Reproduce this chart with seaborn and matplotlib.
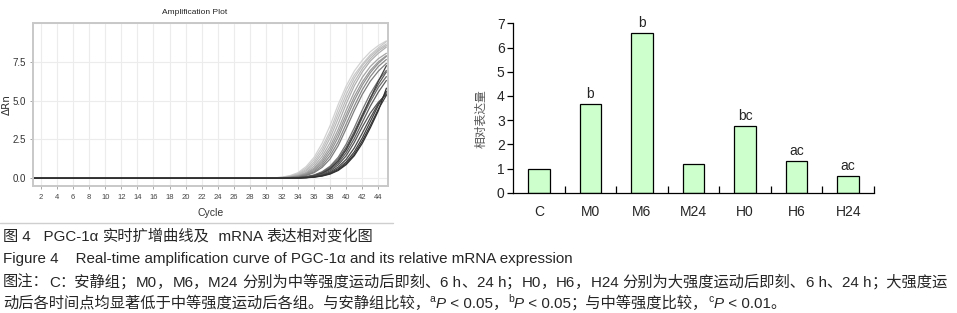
import numpy as np
import pandas as pd
import matplotlib
matplotlib.use("Agg")
import matplotlib.pyplot as plt
from matplotlib.lines import Line2D
import seaborn as sns

# ---------------- data ----------------
# Right panel: relative mRNA expression
categories = ["C", "M0", "M6", "M24", "H0", "H6", "H24"]
expression = [1.0, 3.65, 6.59, 1.18, 2.75, 1.30, 0.69]
sig_labels = ["", "b", "b", "", "bc", "ac", "ac"]

# Left panel: amplification curves (ΔRn), baseline cycles 1-29 and readings for cycles 30-45
baseline_cycles = list(range(1, 30))
rise_cycles = list(range(30, 46))
curve_values = {
    "c20": [0, 0.02, 0.07, 0.17, 0.36, 0.75, 1.35, 2.25, 3.40, 4.75, 5.95, 6.90, 7.60, 8.15, 8.55, 8.85],
    "c01": [0, 0.02, 0.06, 0.14, 0.30, 0.65, 1.20, 2.00, 3.05, 4.45, 5.70, 6.65, 7.35, 7.95, 8.40, 8.80],
    "c02": [0, 0.02, 0.05, 0.12, 0.26, 0.55, 1.05, 1.80, 2.85, 4.15, 5.40, 6.45, 7.25, 7.85, 8.30, 8.65],
    "c03": [0, 0.01, 0.04, 0.10, 0.22, 0.47, 0.92, 1.60, 2.60, 3.85, 5.10, 6.20, 7.05, 7.70, 8.20, 8.55],
    "c04": [0, 0.01, 0.03, 0.08, 0.18, 0.38, 0.78, 1.40, 2.30, 3.50, 4.80, 5.95, 6.85, 7.55, 8.05, 8.45],
    "c05": [0, 0.01, 0.03, 0.07, 0.15, 0.32, 0.66, 1.22, 2.05, 3.15, 4.40, 5.55, 6.50, 7.20, 7.70, 8.05],
    "c06": [0, 0.01, 0.02, 0.06, 0.13, 0.28, 0.58, 1.08, 1.85, 2.90, 4.10, 5.25, 6.20, 6.95, 7.50, 7.90],
    "c07": [0, 0.00, 0.02, 0.05, 0.11, 0.24, 0.50, 0.95, 1.65, 2.65, 3.85, 5.00, 6.00, 6.80, 7.40, 7.85],
    "c08": [0, 0.00, 0.02, 0.04, 0.09, 0.20, 0.42, 0.82, 1.45, 2.35, 3.50, 4.65, 5.70, 6.55, 7.20, 7.65],
    "c09": [0, 0.00, 0.01, 0.04, 0.08, 0.17, 0.36, 0.70, 1.25, 2.10, 3.20, 4.35, 5.40, 6.25, 6.90, 7.40],
    "c10": [0, 0.00, 0.01, 0.02, 0.05, 0.10, 0.21, 0.42, 0.78, 1.35, 2.20, 3.25, 4.40, 5.45, 6.30, 6.95],
    "c19": [0, 0.00, 0.01, 0.02, 0.04, 0.09, 0.19, 0.38, 0.70, 1.22, 2.00, 3.00, 4.10, 5.15, 6.05, 6.85],
    "c11": [0, 0.00, 0.00, 0.02, 0.04, 0.08, 0.17, 0.34, 0.64, 1.12, 1.85, 2.80, 3.90, 4.95, 5.85, 6.55],
    "c12": [0, 0.00, 0.00, 0.01, 0.03, 0.07, 0.15, 0.30, 0.56, 0.98, 1.65, 2.55, 3.60, 4.65, 5.55, 6.30],
    "c18": [0, 0.00, 0.00, 0.01, 0.03, 0.07, 0.16, 0.32, 0.62, 1.10, 1.85, 2.85, 4.00, 5.15, 6.25, 7.25],
    "c13": [0, 0.00, 0.00, 0.01, 0.03, 0.06, 0.12, 0.25, 0.48, 0.86, 1.45, 2.30, 3.30, 4.20, 4.90, 5.40],
    "c14": [0, 0.00, 0.00, 0.01, 0.02, 0.05, 0.10, 0.21, 0.40, 0.72, 1.22, 1.95, 2.90, 3.90, 4.80, 5.50],
    "c15": [0, 0.00, 0.00, 0.01, 0.02, 0.04, 0.09, 0.18, 0.34, 0.62, 1.05, 1.70, 2.60, 3.65, 4.70, 5.60],
    "c16": [0, 0.00, 0.00, 0.00, 0.02, 0.04, 0.08, 0.16, 0.30, 0.55, 0.95, 1.55, 2.40, 3.40, 4.45, 5.35],
    "c17": [0, 0.00, 0.00, 0.00, 0.01, 0.03, 0.07, 0.14, 0.27, 0.50, 0.88, 1.45, 2.25, 3.25, 4.35, 5.80],
}
curve_colors = {
    "c20": "#d2d2d2", "c01": "#c8c8c8", "c02": "#c0c0c0", "c03": "#b8b8b8", "c04": "#b0b0b0",
    "c05": "#a4a4a4", "c06": "#9a9a9a", "c07": "#929292", "c08": "#888888", "c09": "#7e7e7e",
    "c10": "#747474", "c19": "#5c5c5c", "c11": "#6a6a6a", "c12": "#5e5e5e", "c18": "#404040",
    "c13": "#555555", "c14": "#4a4a4a", "c15": "#404040", "c16": "#383838", "c17": "#303030",
}
x_ticks_amp = list(range(2, 46, 2))
y_ticks_amp = [0.0, 2.5, 5.0, 7.5]

caption_cn = "图 4   PGC-1α 实时扩增曲线及  mRNA 表达相对变化图"
caption_en = "Figure 4    Real-time amplification curve of PGC-1α and its relative mRNA expression"
note_line1 = "图注：C：安静组；M0，M6，M24 分别为中等强度运动后即刻、6 h、24 h；H0，H6，H24 分别为大强度运动后即刻、6 h、24 h；大强度运"
note_line2_parts = [
    ("动后各时间点均显著低于中等强度运动后各组。与安静组比较，", "normal", False),
    ("a", "normal", True), ("P", "italic", False), (" < 0.05，", "normal", False),
    ("b", "normal", True), ("P", "italic", False), (" < 0.05；与中等强度比较，", "normal", False),
    ("c", "normal", True), ("P", "italic", False), (" < 0.01。", "normal", False),
]

# ---------------- figure ----------------
sns.set_style("white")
plt.rcParams["font.family"] = ["Liberation Sans", "Noto Sans CJK SC", "DejaVu Sans"]

W, H = 957, 313
fig = plt.figure(figsize=(W / 100, H / 100), dpi=100)


def fx(px):
    return px / W


def fy(py):
    return 1 - py / H


# ---- left: amplification plot ----
rows = []
for name, vals in curve_values.items():
    for c in baseline_cycles:
        rows.append((name, c, 0.0))
    for c, v in zip(rise_cycles, vals):
        rows.append((name, c, v))
amp_df = pd.DataFrame(rows, columns=["curve", "cycle", "dRn"])

ax1 = fig.add_axes([fx(33), fy(186), fx(388) - fx(33), fy(23) - fy(186)])
for x in x_ticks_amp:
    ax1.axvline(x, color="#ececec", lw=0.8, zorder=0)
for y in y_ticks_amp + [10.0]:
    ax1.axhline(y, color="#ececec", lw=0.8, zorder=0)
sns.lineplot(data=amp_df, x="cycle", y="dRn", hue="curve", palette=curve_colors,
             hue_order=list(curve_values.keys()), legend=False, lw=0.9, ax=ax1)
ax1.set_xlim(1, 45.2)
ax1.set_ylim(-0.5, 10)
ax1.set_xticks(x_ticks_amp)
ax1.set_xticklabels([str(v) for v in x_ticks_amp], fontsize=5.5, color="#444444")
ax1.set_yticks(y_ticks_amp)
ax1.set_yticklabels([f"{v:.1f}" for v in y_ticks_amp], fontsize=7, color="#333333")
ax1.tick_params(axis="both", length=2, width=0.6, color="#999999", pad=3)
ax1.tick_params(axis="x", bottom=True, pad=4)
ax1.tick_params(axis="y", left=True)
for s in ax1.spines.values():
    s.set_color("#c8c8c8")
    s.set_linewidth(1.4)
ax1.set_xlabel("Cycle", fontsize=7.5, color="#333333", labelpad=5)
ax1.set_ylabel("ΔRn", fontsize=7.5, color="#333333", family=["DejaVu Sans"])
ax1.yaxis.set_label_coords(-0.058, 0.5)
fig.text(fx(195), fy(13), "Amplification Plot", fontsize=6, color="#222222",
         ha="center", va="center")

fig.add_artist(Line2D([0, fx(393)], [fy(222.5), fy(222.5)], color="#cfcfcf", lw=1.0))

# ---- right: bar chart ----
ax2 = fig.add_axes([fx(513), fy(192.7), fx(874) - fx(513), fy(23.3) - fy(192.7)])
sns.barplot(x=categories, y=expression, color="#ccffcc", edgecolor="black",
            linewidth=0.9, width=0.42, saturation=1, ax=ax2)
ax2.set_xlim(-0.5, 6.5)
ax2.set_ylim(0, 7)
ax2.set_yticks(range(0, 8))
ax2.set_yticklabels([str(v) for v in range(0, 8)], fontsize=10)
ax2.tick_params(axis="y", direction="out", length=4, width=0.9, color="black", left=True, pad=2)
ax2.set_xticks(range(len(categories)))
ax2.set_xticklabels(categories, fontsize=10)
ax2.tick_params(axis="x", which="major", length=0, pad=9)
ax2.set_xticks([0.5 + i for i in range(7)], minor=True)
ax2.tick_params(axis="x", which="minor", direction="in", length=5, width=0.9, color="black", bottom=True)
for side in ["top", "right"]:
    ax2.spines[side].set_visible(False)
for side in ["left", "bottom"]:
    ax2.spines[side].set_color("black")
    ax2.spines[side].set_linewidth(0.9)
ax2.set_ylabel("相对表达量", fontsize=8.5, color="#555555", family=["Noto Sans CJK SC"])
ax2.yaxis.set_label_coords((487 - 513) / 361, 0.44)
for i, (v, lab) in enumerate(zip(expression, sig_labels)):
    if lab:
        ax2.text(i, v + 0.12, lab, ha="center", va="bottom", fontsize=10)

# ---- captions: mixed CJK / Latin runs laid out by measured width ----
renderer = fig.canvas.get_renderer()
CJK_FS = 11.0
LAT_FS = 10.9
CJK_FAM = ["Noto Sans CJK SC", "DejaVu Sans"]
LAT_FAM = ["Liberation Sans", "DejaVu Sans"]


def is_cjk(ch):
    o = ord(ch)
    return (0x3000 <= o <= 0x303F) or (0x4E00 <= o <= 0x9FFF) or (0xFF00 <= o <= 0xFFEF)


def split_runs(s):
    runs = []
    for ch in s:
        k = is_cjk(ch)
        if runs and runs[-1][1] == k:
            runs[-1][0] += ch
        else:
            runs.append([ch, k])
    return runs


def text_width(s, fam, fs, style):
    t1 = fig.text(0, 0, "x" + s + "x", fontsize=fs, family=fam, style=style)
    t2 = fig.text(0, 0, "xx", fontsize=fs, family=fam, style=style)
    w = t1.get_window_extent(renderer).width - t2.get_window_extent(renderer).width
    t1.remove()
    t2.remove()
    return w


def draw_line(x_px, base_px, parts):
    for txt, style, sup in parts:
        for run, cjk in split_runs(txt):
            fam = CJK_FAM if cjk else LAT_FAM
            fs = CJK_FS if cjk else LAT_FS
            yb = base_px
            if sup:
                fs = 7.5
                yb = base_px - 5.5
            fig.text(fx(x_px), fy(yb), run, fontsize=fs, family=fam, style=style,
                     ha="left", va="baseline")
            x_px += text_width(run, fam, fs, style)


draw_line(3, 241, [(caption_cn, "normal", False)])
draw_line(3, 263, [(caption_en, "normal", False)])
draw_line(3, 287, [(note_line1, "normal", False)])
draw_line(3, 308, note_line2_parts)

fig.savefig("out.png", dpi=100)
